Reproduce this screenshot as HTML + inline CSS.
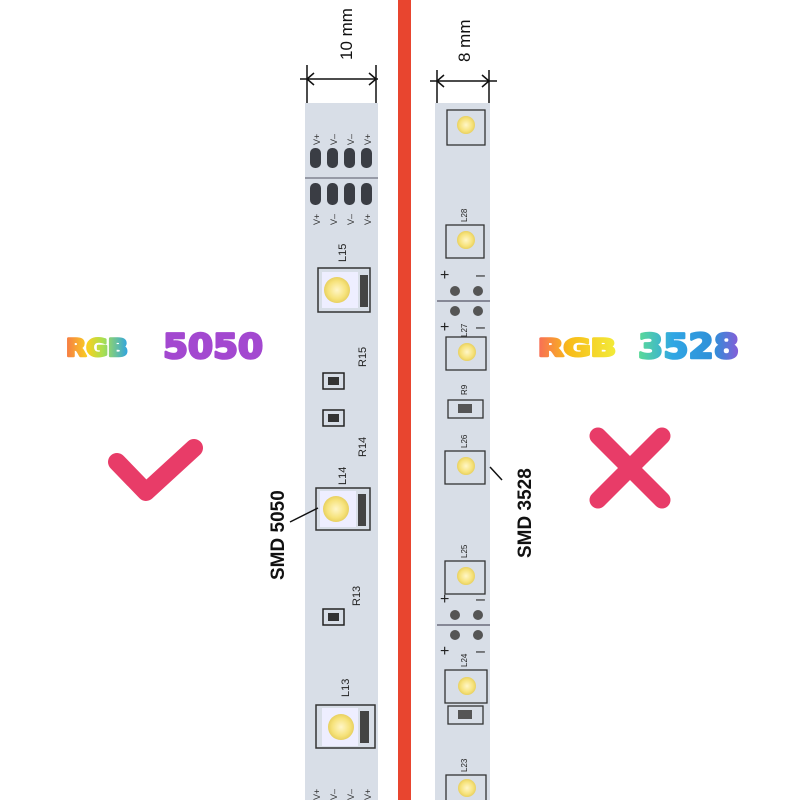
<!DOCTYPE html>
<html><head><style>body{margin:0;background:#fff}svg{display:block}</style></head>
<body>
<svg width="800" height="800" viewBox="0 0 800 800" xmlns="http://www.w3.org/2000/svg">
<defs>
<linearGradient id="g1" gradientUnits="userSpaceOnUse" x1="66" x2="128" y1="0" y2="0"><stop offset="0" stop-color="#f77a45"/><stop offset=".35" stop-color="#f8d020"/><stop offset=".6" stop-color="#a8e050"/><stop offset="1" stop-color="#2ea3e3"/></linearGradient>
<linearGradient id="g2" gradientUnits="userSpaceOnUse" x1="537" x2="616" y1="0" y2="0"><stop offset="0" stop-color="#f86a5a"/><stop offset=".4" stop-color="#f8bb18"/><stop offset="1" stop-color="#f2ec3a"/></linearGradient>
<linearGradient id="g3" gradientUnits="userSpaceOnUse" x1="637" x2="740" y1="0" y2="0"><stop offset="0" stop-color="#5ddc94"/><stop offset=".35" stop-color="#30a6e4"/><stop offset=".75" stop-color="#2f8fd8"/><stop offset="1" stop-color="#8b5ad8"/></linearGradient>
<radialGradient id="led"><stop offset="0" stop-color="#fff6c8"/><stop offset=".7" stop-color="#f6e27a"/><stop offset="1" stop-color="#e8d060"/></radialGradient>
</defs>
<rect x="305" y="103" width="73" height="697" fill="#d8dee7"/>
<rect x="435" y="103" width="55" height="697" fill="#d8dee7"/>
<rect x="398" y="0" width="13" height="800" fill="#e8452f"/>
<g stroke="#111" stroke-width="1.5" fill="none">
<line x1="307" y1="65" x2="307" y2="103"/><line x1="376" y1="65" x2="376" y2="103"/>
<line x1="300" y1="79" x2="378" y2="79"/>
<path d="M314 73 L307 79 L314 85 M369 73 L376 79 L369 85"/>
<line x1="437" y1="70" x2="437" y2="103"/><line x1="489" y1="70" x2="489" y2="103"/>
<line x1="430" y1="81" x2="497" y2="81"/>
<path d="M444 75 L437 81 L444 87 M482 75 L489 81 L482 87"/>
</g>
<text transform="translate(352,60) rotate(-90)" font-family="Liberation Sans,sans-serif" font-size="17" fill="#111">10 mm</text>
<text transform="translate(470,62) rotate(-90)" font-family="Liberation Sans,sans-serif" font-size="17" fill="#111">8 mm</text>
<g fill="#3a3d44">
<rect x="310" y="148" width="11" height="20" rx="5"/><rect x="327" y="148" width="11" height="20" rx="5"/><rect x="344" y="148" width="11" height="20" rx="5"/><rect x="361" y="148" width="11" height="20" rx="5"/>
<rect x="310" y="183" width="11" height="22" rx="5"/><rect x="327" y="183" width="11" height="22" rx="5"/><rect x="344" y="183" width="11" height="22" rx="5"/><rect x="361" y="183" width="11" height="22" rx="5"/>
</g>
<line x1="305" y1="178" x2="378" y2="178" stroke="#556" stroke-width="1"/>
<g font-family="Liberation Sans,sans-serif" font-size="9" fill="#333">
<text transform="translate(320,145) rotate(-90)">V+</text><text transform="translate(337,145) rotate(-90)">V–</text><text transform="translate(354,145) rotate(-90)">V–</text><text transform="translate(371,145) rotate(-90)">V+</text>
<text transform="translate(320,225) rotate(-90)">V+</text><text transform="translate(337,225) rotate(-90)">V–</text><text transform="translate(354,225) rotate(-90)">V–</text><text transform="translate(371,225) rotate(-90)">V+</text>
<text transform="translate(320,800) rotate(-90)">V+</text><text transform="translate(337,800) rotate(-90)">V–</text><text transform="translate(354,800) rotate(-90)">V–</text><text transform="translate(371,800) rotate(-90)">V+</text>
</g>
<g>
<rect x="318" y="268" width="52" height="44" fill="none" stroke="#333" stroke-width="1.5"/><rect x="322" y="272" width="36" height="36" fill="#eef"/><circle cx="337" cy="290" r="13" fill="url(#led)"/><rect x="360" y="275" width="8" height="32" fill="#444"/>
<rect x="316" y="488" width="54" height="42" fill="none" stroke="#333" stroke-width="1.5"/><rect x="320" y="491" width="36" height="36" fill="#eef"/><circle cx="336" cy="509" r="13" fill="url(#led)"/><rect x="358" y="494" width="8" height="32" fill="#444"/>
<rect x="316" y="705" width="59" height="43" fill="none" stroke="#333" stroke-width="1.5"/><rect x="322" y="708" width="36" height="38" fill="#eef"/><circle cx="341" cy="727" r="13" fill="url(#led)"/><rect x="360" y="711" width="9" height="32" fill="#444"/>
</g>
<g fill="none" stroke="#222" stroke-width="1.5">
<rect x="323" y="373" width="21" height="16"/><rect x="323" y="410" width="21" height="16"/><rect x="323" y="609" width="21" height="16"/>
</g>
<g fill="#333"><rect x="328" y="377" width="11" height="8"/><rect x="328" y="414" width="11" height="8"/><rect x="328" y="613" width="11" height="8"/></g>
<g font-family="Liberation Sans,sans-serif" font-size="11" fill="#222">
<text transform="translate(346,262) rotate(-90)">L15</text><text transform="translate(366,367) rotate(-90)">R15</text><text transform="translate(366,457) rotate(-90)">R14</text><text transform="translate(346,485) rotate(-90)">L14</text><text transform="translate(360,606) rotate(-90)">R13</text><text transform="translate(349,697) rotate(-90)">L13</text>
</g>
<line x1="290" y1="522" x2="318" y2="508" stroke="#111" stroke-width="1.5"/>
<text transform="translate(284,580) rotate(-90)" font-family="Liberation Sans,sans-serif" font-weight="bold" font-size="19" fill="#111">SMD 5050</text>
<g fill="none" stroke="#333" stroke-width="1.3">
<rect x="447" y="110" width="38" height="35"/><rect x="446" y="225" width="38" height="33"/><rect x="446" y="337" width="40" height="33"/><rect x="445" y="451" width="40" height="33"/><rect x="445" y="561" width="40" height="33"/><rect x="445" y="670" width="42" height="33"/><rect x="446" y="775" width="40" height="30"/>
<rect x="448" y="400" width="35" height="18"/><rect x="448" y="706" width="35" height="18"/>
</g>
<g fill="url(#led)">
<circle cx="466" cy="125" r="9"/><circle cx="466" cy="240" r="9"/><circle cx="467" cy="352" r="9"/><circle cx="466" cy="466" r="9"/><circle cx="466" cy="576" r="9"/><circle cx="467" cy="686" r="9"/><circle cx="467" cy="788" r="9"/>
</g>
<g fill="#555">
<rect x="458" y="404" width="14" height="9"/><rect x="458" y="710" width="14" height="9"/>
<circle cx="455" cy="291" r="5"/><circle cx="478" cy="291" r="5"/><circle cx="455" cy="311" r="5"/><circle cx="478" cy="311" r="5"/>
<circle cx="455" cy="615" r="5"/><circle cx="478" cy="615" r="5"/><circle cx="455" cy="635" r="5"/><circle cx="478" cy="635" r="5"/>
</g>
<line x1="437" y1="301" x2="490" y2="301" stroke="#334" stroke-width="1"/>
<line x1="437" y1="625" x2="490" y2="625" stroke="#334" stroke-width="1"/>
<g font-family="Liberation Sans,sans-serif" font-size="16" fill="#222">
<text x="440" y="280">+</text><text x="476" y="280">–</text><text x="440" y="332">+</text><text x="476" y="332">–</text>
<text x="440" y="604">+</text><text x="476" y="604">–</text><text x="440" y="656">+</text><text x="476" y="656">–</text>
</g>
<g font-family="Liberation Sans,sans-serif" font-size="8" fill="#222">
<text transform="translate(467,222) rotate(-90)">L28</text><text transform="translate(467,337) rotate(-90)">L27</text><text transform="translate(467,395) rotate(-90)">R9</text><text transform="translate(467,448) rotate(-90)">L26</text><text transform="translate(467,558) rotate(-90)">L25</text><text transform="translate(467,667) rotate(-90)">L24</text><text transform="translate(467,772) rotate(-90)">L23</text>
</g>
<line x1="490" y1="467" x2="502" y2="480" stroke="#111" stroke-width="1.5"/>
<text transform="translate(531,558) rotate(-90)" font-family="Liberation Sans,sans-serif" font-weight="bold" font-size="19" fill="#111">SMD 3528</text>
<g font-family="DejaVu Sans,sans-serif" font-weight="bold" stroke-linejoin="round">
<text x="66" y="356" font-size="24" fill="url(#g1)" stroke="url(#g1)" stroke-width="2.5" textLength="62" lengthAdjust="spacingAndGlyphs">RGB</text>
<text x="163" y="358" font-size="34" fill="#a348d0" stroke="#a348d0" stroke-width="2.5" textLength="100" lengthAdjust="spacingAndGlyphs">5050</text>
<text x="538" y="356" font-size="24" fill="url(#g2)" stroke="url(#g2)" stroke-width="2.5" textLength="78" lengthAdjust="spacingAndGlyphs">RGB</text>
<text x="638" y="358" font-size="34" fill="url(#g3)" stroke="url(#g3)" stroke-width="2.5" textLength="101" lengthAdjust="spacingAndGlyphs">3528</text>
</g>
<path d="M117 462 L146 492 L194 448" fill="none" stroke="#e83c68" stroke-width="18" stroke-linecap="round" stroke-linejoin="round"/>
<path d="M598 436 L662 500 M662 436 L598 500" fill="none" stroke="#e83c68" stroke-width="17" stroke-linecap="round"/>
</svg>
</body></html>
